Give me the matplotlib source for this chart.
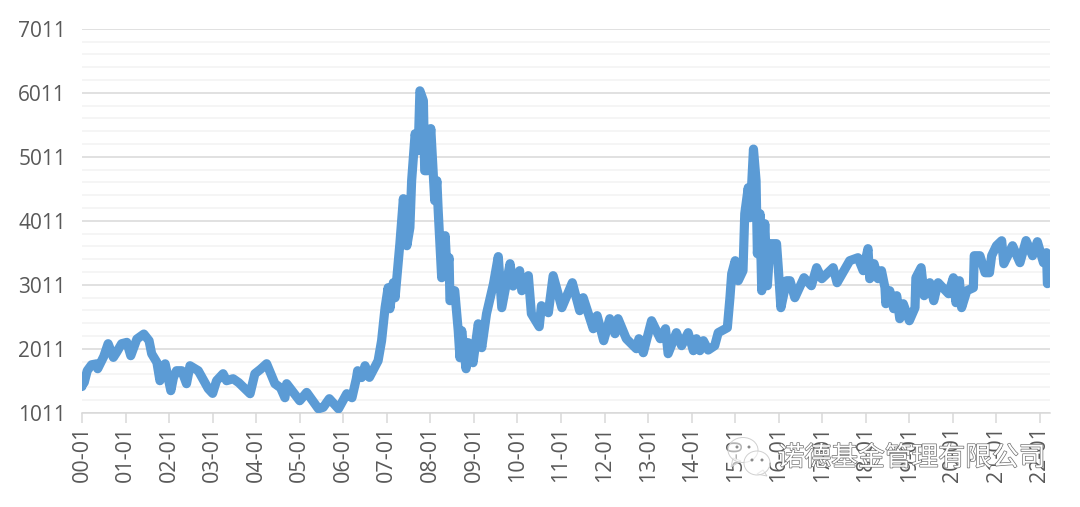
import matplotlib
matplotlib.use("Agg")
import matplotlib.pyplot as plt
import matplotlib.patheffects as pe
from matplotlib.patches import Ellipse, Polygon

years = [0.00,0.02,0.05,0.12,0.22,0.34,0.36,0.50,0.60,0.72,0.80,0.91,1.03,1.12,1.26,1.42,1.54,1.60,1.72,1.79,1.91,2.04,2.10,2.17,2.29,2.40,2.48,2.67,2.90,3.00,3.09,3.24,3.32,3.47,3.60,3.86,3.97,4.10,4.24,4.43,4.56,4.66,4.70,5.00,5.16,5.43,5.54,5.68,5.89,6.08,6.20,6.30,6.33,6.42,6.50,6.60,6.80,6.88,6.96,7.03,7.07,7.15,7.19,7.30,7.38,7.46,7.53,7.57,7.65,7.72,7.76,7.84,7.87,7.93,8.01,8.07,8.10,8.15,8.18,8.22,8.26,8.34,8.38,8.43,8.45,8.56,8.64,8.68,8.72,8.82,8.87,8.98,9.10,9.18,9.29,9.45,9.56,9.64,9.83,9.90,10.05,10.10,10.25,10.32,10.50,10.55,10.71,10.82,11.02,11.26,11.43,11.51,11.74,11.83,11.98,12.12,12.24,12.31,12.50,12.73,12.79,12.89,13.08,13.28,13.40,13.46,13.65,13.77,13.92,14.04,14.11,14.19,14.27,14.38,14.53,14.61,14.82,14.88,14.92,15.00,15.07,15.18,15.22,15.30,15.34,15.42,15.48,15.51,15.57,15.61,15.68,15.74,15.80,15.95,15.99,16.05,16.18,16.26,16.37,16.58,16.75,16.87,16.99,17.25,17.34,17.63,17.82,17.94,18.05,18.09,18.19,18.28,18.36,18.44,18.46,18.55,18.64,18.71,18.78,18.86,19.00,19.13,19.15,19.27,19.34,19.47,19.56,19.66,19.90,20.01,20.07,20.15,20.20,20.32,20.47,20.49,20.62,20.74,20.84,20.89,21.00,21.12,21.17,21.37,21.54,21.68,21.83,21.94,22.08,22.15,22.17]
values = [1420,1560,1480,1667,1760,1775,1698,1890,2089,1875,1960,2089,2110,1902,2162,2240,2136,1932,1797,1511,1775,1355,1560,1667,1667,1464,1745,1667,1386,1313,1511,1620,1511,1542,1480,1308,1620,1690,1776,1464,1400,1245,1464,1198,1328,1072,1095,1230,1072,1308,1245,1542,1667,1560,1745,1563,1823,2136,2652,2964,2636,3042,2808,3652,4355,3620,3902,4636,5370,5105,6040,5886,4792,4792,5450,4683,4324,4636,4167,3652,3120,3777,3250,3433,2761,2917,2292,1870,2292,1698,2105,1792,2400,2027,2558,3027,3450,2652,3339,2990,3230,2917,3152,2558,2355,2683,2573,3152,2652,3042,2605,2808,2323,2527,2136,2480,2245,2480,2167,2011,2167,1948,2448,2167,2323,1933,2261,2058,2261,1980,2167,1980,2136,1990,2058,2261,2339,2808,3183,3386,3073,3230,4120,4527,4058,5130,4636,3495,4120,2917,3964,2995,3652,3652,3277,2652,3073,3073,2808,3120,2995,3277,3105,3277,3042,3386,3433,3230,3574,3105,3339,3105,3230,2964,2714,2917,2636,2839,2480,2714,2448,2652,3120,3277,2839,3042,2761,3042,2870,3120,2730,3073,2652,2917,2964,3464,3464,3198,3198,3464,3620,3698,3339,3620,3355,3700,3464,3683,3355,3511,3027]
x_tick_years = list(range(23))
x_tick_labels = [f"{y:02d}-01" for y in x_tick_years]
y_ticks = [1011, 2011, 3011, 4011, 5011, 6011, 7011]
y_minor_ticks = [v for v in range(1211, 7011, 200)]

W, H = 1080, 507
fig = plt.figure(figsize=(W/100, H/100), dpi=100)
left, right, top, bottom = 82, 1050, 28.7, 412.7
ax = fig.add_axes([left/W, 1-bottom/H, (right-left)/W, (bottom-top)/H])

ax.plot(years, values, color="#5b9bd5", lw=6.6, solid_capstyle="round", solid_joinstyle="round", zorder=3)
ax.set_xlim(0, 22.23)
ax.set_ylim(1011, 7011)
ax.set_yticks(y_ticks)
ax.set_yticks(y_minor_ticks, minor=True)
ax.set_xticks(x_tick_years)
ax.set_xticklabels(x_tick_labels, rotation=90, family="Open Sans", fontsize=15.5, color="#595959")
for t in ax.get_yticklabels():
    t.set_family("Open Sans"); t.set_fontsize(15); t.set_color("#595959")
ax.grid(True, which="major", axis="y", color="#d9d9d9", lw=1.1)
ax.grid(True, which="minor", axis="y", color="#f2f2f2", lw=1.1)
ax.set_axisbelow(True)
for s in ("top", "right", "left"):
    ax.spines[s].set_visible(False)
ax.spines["bottom"].set_color("#d9d9d9")
ax.spines["bottom"].set_linewidth(1.1)
ax.tick_params(axis="x", which="major", length=7, width=1.1, color="#d9d9d9", pad=2.5)
ax.tick_params(axis="y", which="both", length=0, pad=11.5)

# watermark layer in pixel coordinates
ov = fig.add_axes([0, 0, 1, 1], facecolor="none")
ov.set_xlim(0, W); ov.set_ylim(H, 0); ov.axis("off")
shadow = [pe.withStroke(linewidth=1.0, foreground="#6f6f6f")]
ov.text(1045, 458, "诺德基金管理有限公司", family=["Noto Sans CJK SC", "DejaVu Sans"], fontsize=19.3,
        color="white", ha="right", va="center", path_effects=shadow, zorder=5)
edge = "#d0d0d0"
fill = (1, 1, 1, 0.55)
ov.add_patch(Polygon([[733, 458], [731, 467], [741, 461]], fc=fill, ec=edge, lw=0.7, zorder=4))
ov.add_patch(Ellipse((743, 450), 30, 25, fc=fill, ec=edge, lw=0.7, zorder=4))
ov.add_patch(Polygon([[763, 470], [767, 476], [757, 474]], fc=fill, ec=edge, lw=0.7, zorder=4))
ov.add_patch(Ellipse((757, 463), 26, 24, fc=fill, ec=edge, lw=0.7, zorder=4))
for cx, cy, col in [(737, 447, "#8a8a8a"), (749, 447, "#8a8a8a"), (752, 460, "#8a8a8a"), (762, 460, "#8a8a8a")]:
    ov.add_patch(Ellipse((cx, cy), 3, 3, fc=col, ec="none", zorder=5))

fig.savefig("out.png", dpi=100)
